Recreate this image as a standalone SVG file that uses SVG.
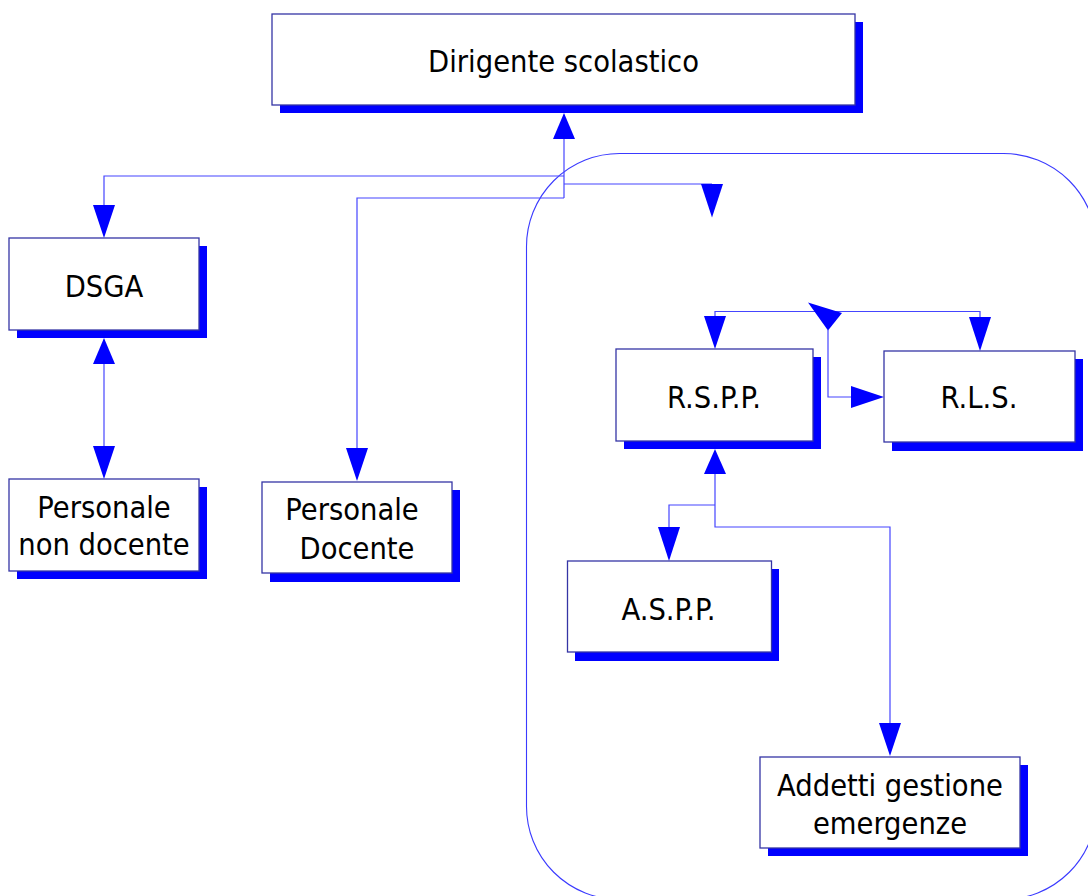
<svg xmlns="http://www.w3.org/2000/svg" width="1088" height="896" viewBox="0 0 1088 896">
<style>
.shadow{fill:#0000ff}
.box{fill:#ffffff;stroke:#3535a5;stroke-width:1.3}
.lbl{font-family:"DejaVu Sans Condensed","DejaVu Sans",sans-serif;font-stretch:condensed;font-size:30.5px;fill:#000000;text-anchor:middle}
.ln{fill:none;stroke:#4545ff;stroke-width:1.2}
.ah{fill:#0000ff;stroke:none}
.frame{fill:none;stroke:#3a3aff;stroke-width:1.1}
</style>
<rect width="1088" height="896" fill="#ffffff"/>
<rect class="frame" x="526.5" y="153.5" width="570" height="746" rx="93" ry="93"/>
<g id="connectors">
<polyline class="ln" points="564,139 564,198"/>
<polygon class="ah" points="564,113 553,139 575,139"/>
<polyline class="ln" points="564,176 104,176 104,205"/>
<polygon class="ah" points="104,238 93,205 115,205"/>
<polyline class="ln" points="564,184 712,184"/>
<polygon class="ah" points="712,217.5 701,184 723,184"/>
<polyline class="ln" points="564,198 357,198 357,448"/>
<polygon class="ah" points="357,481 346,448 368,448"/>
<polyline class="ln" points="104,364 104,446"/>
<polygon class="ah" points="104,338 93,364 115,364"/>
<polygon class="ah" points="104,479 93,446 115,446"/>
<polyline class="ln" points="715,316 715,311.5 980,311.5 980,317"/>
<polygon class="ah" points="715,349 704,316 726,316"/>
<polygon class="ah" points="980,351 969,317 991,317"/>
<polygon class="ah" points="808,302.5 842,313 828,330.5"/>
<polyline class="ln" points="828,330 828,397 851,397"/>
<polygon class="ah" points="884,397 851,386 851,408"/>
<polyline class="ln" points="715,474 715,527 890,527 890,723"/>
<polygon class="ah" points="715,449 704,474 726,474"/>
<polyline class="ln" points="715,505 669,505 669,527"/>
<polygon class="ah" points="669,561 658,527 680,527"/>
<polygon class="ah" points="890,756 879,723 901,723"/>
</g>
<g id="dirigente">
<rect class="shadow" x="280" y="22" width="583" height="91"/>
<rect class="box" x="272" y="14" width="583" height="91"/>
<text class="lbl" x="563.5" y="72">Dirigente scolastico</text>
</g>
<g id="dsga">
<rect class="shadow" x="17" y="246" width="190" height="92"/>
<rect class="box" x="9" y="238" width="190" height="92"/>
<text class="lbl" x="104" y="297">DSGA</text>
</g>
<g id="personale-non-docente">
<rect class="shadow" x="17" y="487" width="190" height="92"/>
<rect class="box" x="9" y="479" width="190" height="92"/>
<text class="lbl" x="104" y="518">Personale</text>
<text class="lbl" x="104" y="555">non docente</text>
</g>
<g id="personale-docente">
<rect class="shadow" x="270" y="490" width="190" height="92"/>
<rect class="box" x="262" y="482" width="190" height="91"/>
<text class="lbl" x="352" y="520">Personale</text>
<text class="lbl" x="357" y="559">Docente</text>
</g>
<g id="rspp">
<rect class="shadow" x="624" y="357" width="197" height="92"/>
<rect class="box" x="616" y="349" width="197" height="92"/>
<text class="lbl" x="714" y="408">R.S.P.P.</text>
</g>
<g id="rls">
<rect class="shadow" x="892" y="359" width="191" height="92"/>
<rect class="box" x="884" y="351" width="191" height="91"/>
<text class="lbl" x="979" y="408">R.L.S.</text>
</g>
<g id="aspp">
<rect class="shadow" x="575" y="569" width="204" height="92"/>
<rect class="box" x="567.5" y="561" width="204" height="91"/>
<text class="lbl" x="668.5" y="620">A.S.P.P.</text>
</g>
<g id="addetti">
<rect class="shadow" x="768" y="765" width="260" height="91"/>
<rect class="box" x="760" y="757" width="260" height="91"/>
<text class="lbl" x="890" y="796">Addetti gestione</text>
<text class="lbl" x="890" y="834">emergenze</text>
</g>
</svg>
